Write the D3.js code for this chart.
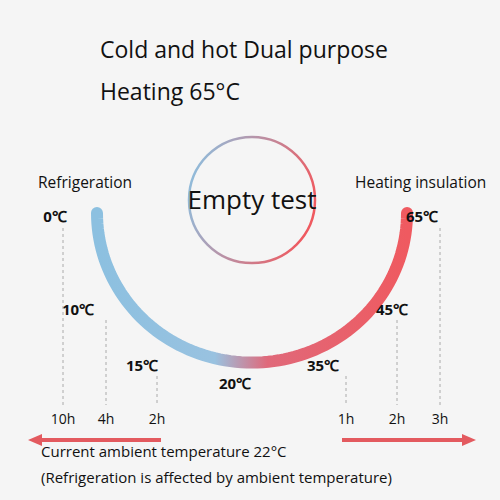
<!DOCTYPE html>
<html><head><meta charset="utf-8">
<script src="https://cdn.jsdelivr.net/npm/d3@7"></script>
<style>body{margin:0;background:#f5f5f5}text{font-family:"Open Sans",sans-serif;fill:#111}</style>
</head><body>
<script>
const tempLabels = ["0℃", "10℃", "15℃", "20℃", "35℃", "45℃", "65℃"];
const tempPos = [[55, 217], [78, 310], [142, 366], [235, 384], [323, 366], [392, 310], [422, 217]];
const coldTimes = ["10h", "4h", "2h"];
const hotTimes = ["1h", "2h", "3h"];
const coldX = [63, 106, 157], hotX = [346, 397, 440];
const lineTop = [228, 320, 376];

const svg = d3.select("body").append("svg").attr("width", 500).attr("height", 500);
const defs = svg.append("defs");
const g1 = defs.append("linearGradient").attr("id", "arcg").attr("x1", "0").attr("x2", "1");
g1.append("stop").attr("offset", "0%").attr("stop-color", "#8cc0e0");
g1.append("stop").attr("offset", "38%").attr("stop-color", "#99c2e0");
g1.append("stop").attr("offset", "55%").attr("stop-color", "#e0697a");
g1.append("stop").attr("offset", "100%").attr("stop-color", "#ef5a60");
const g2 = defs.append("linearGradient").attr("id", "cg").attr("x1", "0").attr("y1", "0.2").attr("x2", "1").attr("y2", "0.5");
g2.append("stop").attr("offset", "0%").attr("stop-color", "#8cc0e0");
g2.append("stop").attr("offset", "100%").attr("stop-color", "#ef5a60");

svg.append("text").attr("x", 100).attr("y", 58).attr("font-size", 23).text("Cold and hot Dual purpose");
svg.append("text").attr("x", 100).attr("y", 100).attr("font-size", 23).text("Heating 65°C");

svg.append("circle").attr("cx", 252).attr("cy", 200).attr("r", 63)
  .attr("fill", "none").attr("stroke", "url(#cg)").attr("stroke-width", 2.5);
svg.append("text").attr("x", 252).attr("y", 209).attr("text-anchor", "middle").attr("font-size", 26).text("Empty test");

const cx = 252, cy = 213, R = 155;
const pts = d3.range(0, 181, 2).map(a => [cx - R * Math.cos(a * Math.PI / 180), cy + R * 0.965 * Math.sin(a * Math.PI / 180)]);
svg.append("path").attr("d", d3.line()(pts)).attr("fill", "none")
  .attr("stroke", "url(#arcg)").attr("stroke-width", 12).attr("stroke-linecap", "round");

svg.append("text").attr("x", 38).attr("y", 188).attr("font-size", 15.5).text("Refrigeration");
svg.append("text").attr("x", 355).attr("y", 188).attr("font-size", 15.5).text("Heating insulation");

tempLabels.forEach((t, i) => svg.append("text").attr("x", tempPos[i][0]).attr("y", tempPos[i][1] + 5)
  .attr("font-size", 15).attr("font-weight", "bold").attr("text-anchor", "middle").text(t));

const dash = (x, y) => svg.append("line").attr("x1", x).attr("x2", x).attr("y1", y).attr("y2", 405)
  .attr("stroke", "#aaa").attr("stroke-dasharray", "3,3");
coldX.forEach((x, i) => dash(x, lineTop[i]));
hotX.forEach((x, i) => dash(x, lineTop[2 - i]));
coldTimes.forEach((t, i) => svg.append("text").attr("x", coldX[i]).attr("y", 424).attr("font-size", 14).attr("text-anchor", "middle").text(t));
hotTimes.forEach((t, i) => svg.append("text").attr("x", hotX[i]).attr("y", 424).attr("font-size", 14).attr("text-anchor", "middle").text(t));

const red = "#e35a5f";
svg.append("rect").attr("x", 38).attr("y", 438).attr("width", 123).attr("height", 4).attr("fill", red);
svg.append("path").attr("d", "M28,440 L42,434 L42,446Z").attr("fill", red);
svg.append("rect").attr("x", 342).attr("y", 438).attr("width", 126).attr("height", 4).attr("fill", red);
svg.append("path").attr("d", "M476,440 L462,434 L462,446Z").attr("fill", red);

svg.append("text").attr("x", 41).attr("y", 457).attr("font-size", 15).text("Current ambient temperature 22°C");
svg.append("text").attr("x", 41).attr("y", 483).attr("font-size", 15).text("(Refrigeration is affected by ambient temperature)");
</script>
</body></html>
